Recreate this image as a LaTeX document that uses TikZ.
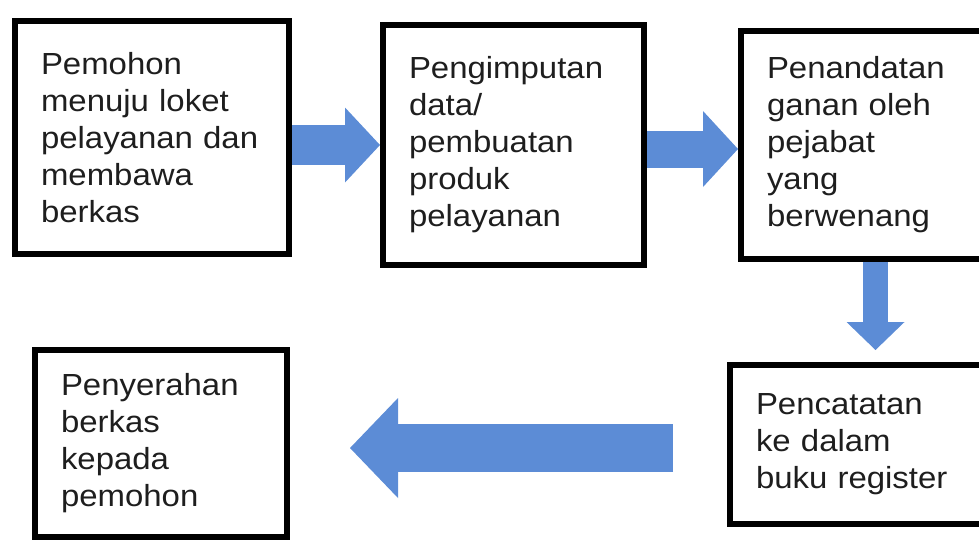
\documentclass[tikz,border=0pt]{standalone}
\usepackage{fontspec}
\setmainfont{Liberation Sans}[FakeStretch=1.08]
\usetikzlibrary{arrows.meta}
\definecolor{flowblue}{RGB}{92,140,214}
\definecolor{inktext}{RGB}{30,30,30}
\tikzset{%
  procnode/.style = {shape=rectangle, draw, line width=6pt,%
                     align=left, anchor=north west,%
                     inner xsep=26pt, inner ysep=0pt},%
  flow/.style n args = {3}{draw=flowblue, line width=#1,%
                     -{Triangle[length=#2, width=#3, line width=0pt]}}%
}
\begin{document}
\begin{tikzpicture}[x=1pt,y=-1pt,
	every node/.style = {text=inktext, font=\fontsize{30.5}{37}\selectfont}]
		\useasboundingbox (0,0) rectangle (979,550);
		\node[procnode, text width=222pt, minimum height=233pt] (b1) at (12,18)
			{Pemohon\\menuju loket\\pelayanan dan\\membawa\\berkas};
		\node[procnode, text width=209pt, minimum height=240pt] (b2) at (380,22)
			{Pengimputan\\data/\\pembuatan\\produk\\pelayanan};
		\node[procnode, text width=194pt, minimum height=228pt] (b3) at (738,28)
			{Penandatan\\ganan oleh\\pejabat\\yang\\berwenang};
		\node[procnode, text width=238pt, minimum height=159pt] (b4) at (727,362)
			{Pencatatan\\ke dalam\\buku register};
		\node[procnode, text width=200pt, minimum height=187pt] (b5) at (32,347)
			{Penyerahan\\berkas\\kepada\\pemohon};
		\coordinate (dn) at (875.5,350);
		\coordinate (lf0) at (673,448);
		\coordinate (lf1) at (350,448);
		\draw[flow={40pt}{35pt}{75pt}] (b1.east |- b2.west) -- (b2.west);
		\draw[flow={37pt}{35pt}{76pt}] ([yshift=-4pt]b2.east) -- ([yshift=-4pt]b3.west);
		\draw[flow={25pt}{28pt}{58pt}] (b3.south -| dn) -- (dn);
		\draw[flow={48pt}{48pt}{100pt}] (lf0) -- (lf1);
	\end{tikzpicture}
\end{document}
